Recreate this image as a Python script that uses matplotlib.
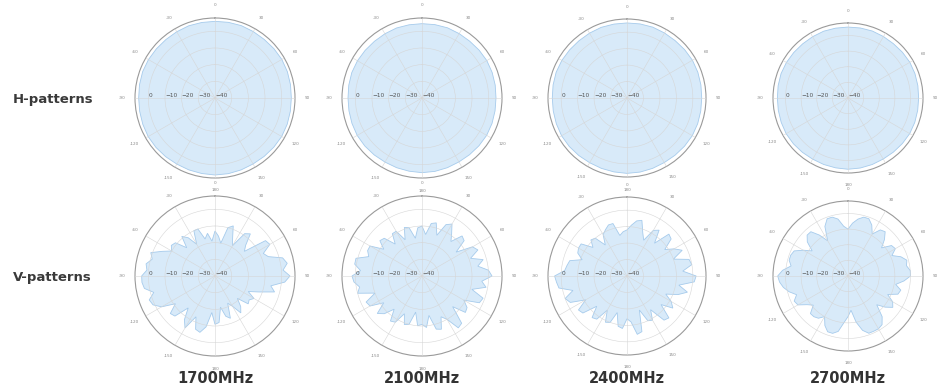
import numpy as np
import matplotlib
matplotlib.use("Agg")
import matplotlib.pyplot as plt

# ------------------------------------ data ------------------------------------
freqs = ["1700MHz", "2100MHz", "2400MHz", "2700MHz"]
row_names = ["H-patterns", "V-patterns"]

# gain in dB, H-plane every 10 deg (clockwise from top)
h_angles = np.arange(0, 360, 10)
h_1700 = [6.0, 6.1, 6.2, 6.0, 5.9, 6.1, 6.3, 6.2, 6.0, 5.8, 5.9, 6.1, 6.2, 6.0, 5.8, 5.7, 5.9, 6.1,
          6.2, 6.0, 5.9, 5.8, 6.0, 6.2, 6.3, 6.1, 5.9, 5.8, 6.0, 6.2, 6.1, 5.9, 5.8, 5.9, 6.1, 6.0]
h_2100 = [4.6, 4.7, 4.8, 4.6, 4.5, 4.7, 4.9, 4.8, 4.6, 4.4, 4.5, 4.7, 4.8, 4.6, 4.4, 4.3, 4.5, 4.7,
          4.8, 4.6, 4.5, 4.4, 4.6, 4.8, 4.9, 4.7, 4.5, 4.4, 4.6, 4.8, 4.7, 4.5, 4.4, 4.5, 4.7, 4.6]
h_2400 = [5.6, 5.7, 5.8, 5.6, 5.5, 5.7, 5.9, 5.8, 5.6, 5.4, 5.5, 5.7, 5.8, 5.6, 5.4, 5.3, 5.5, 5.7,
          5.8, 5.6, 5.5, 5.4, 5.6, 5.8, 5.9, 5.7, 5.5, 5.4, 5.6, 5.8, 5.7, 5.5, 5.4, 5.5, 5.7, 5.6]
h_2700 = [5.4, 5.5, 5.6, 5.4, 5.3, 5.5, 5.7, 5.6, 5.4, 5.2, 5.3, 5.5, 5.6, 5.4, 5.2, 5.1, 5.3, 5.5,
          5.6, 5.4, 5.3, 5.2, 5.4, 5.6, 5.7, 5.5, 5.3, 5.2, 5.4, 5.6, 5.5, 5.3, 5.2, 5.3, 5.5, 5.4]

# gain in dB, V-plane every 5 deg (clockwise from top)
v_angles = np.arange(0, 360, 5)
v_1700 = [-13, -16, -20, -10, -8, -15, -19, -9, -7, -14, -17, -3, -2, -8, -6, 2, 4, 1,
          5, 2, -6, -3, -12, -18, -13, -15, -14, -21, -16, -13, -19, -22, -13, -15, -21, -12,
          -11, -18, -9, -5, -6, -13, -4, -8, -15, -6, -5, -11, -3, 1, 2, -2, 3, 4,
          4, 1, 2, -1, 1, -5, -10, -8, -9, -16, -9, -12, -18, -10, -10, -17, -14, -19]
v_2100 = [-10, -15, -8, -7, -14, -6, -4, -9, -13, -6, -7, -15, -5, -3, -9, -2, -6, 0,
          2, -4, -1, -9, -1, -2, -11, -7, -6, -14, -3, -2, -10, -13, -6, -7, -16, -9,
          -11, -10, -18, -10, -9, -15, -8, -7, -14, -8, -5, -12, -4, -3, -10, 0, -2, 1,
          2, -3, 1, 1, -6, -4, -4, -12, -7, -8, -15, -9, -9, -16, -9, -10, -17, -11]
v_2400 = [-12, -9, -6, -5, -12, -16, -8, -6, -14, -4, -5, -12, -7, -3, -10, -1, 0, -6,
          2, 1, -8, -2, -7, -14, -9, -6, -13, -4, -5, -15, -9, -10, -18, -5, -4, -12,
          -14, -8, -9, -17, -10, -9, -16, -8, -7, -14, -5, -4, -11, -2, 0, -6, 2, 3,
          4, -2, -3, -4, -11, -7, -6, -6, -13, -9, -10, -17, -11, -9, -7, -7, -15, -13]
v_2700 = [-10, -6, -3, -1, -1, -4, -9, -4, -3, -7, -12, -6, -5, -9, -4, -1, -2, 0,
          0, -4, -9, -5, -6, -12, -7, -5, -9, -14, -6, -2, -1, -1, -1, -4, -10, -18,
          -14, -10, -4, -2, -2, -5, -10, -7, -6, -6, -11, -8, -3, -2, -5, -1, 2, 4,
          5, 2, -3, -1, -1, -2, -7, -12, -6, -3, -3, -8, -14, -5, -1, -1, -3, -8]

r_ticks = [-40, -30, -20, -10, 0]
theta_labels = ["0", "30", "60", "90", "120", "150", "180", "-150", "-120", "-90", "-60", "-30"]

h_data = [h_1700, h_2100, h_2400, h_2700]
v_data = [v_1700, v_2100, v_2400, v_2700]

# ------------------------------------ layout ------------------------------------
W, H = 940, 386
col_x = [215, 422, 627, 848]
row_y = [98, 276]
radius = [80, 80, 79, 75]

fig = plt.figure(figsize=(W / 100, H / 100), dpi=100)


def polar_panel(cx, cy, R, angles, gains):
    ax = fig.add_axes([(cx - R) / W, 1 - (cy + R) / H, 2 * R / W, 2 * R / H], projection="polar")
    ax.set_theta_zero_location("N")
    ax.set_theta_direction(-1)
    th = np.deg2rad(np.append(angles, angles[0]))
    g = np.append(gains, gains[0])
    ax.fill(th, g, facecolor="#d8eaf9", edgecolor="#a6cbec", lw=0.6, zorder=2)
    ax.set_ylim(-40, 8)
    ax.set_yticks(r_ticks)
    ax.set_rlabel_position(270)
    ax.set_xticks(np.deg2rad(np.arange(0, 360, 30)))
    ax.set_xticklabels(theta_labels)
    ax.tick_params(axis="x", labelsize=3.0, colors="#888888", pad=-1.5)
    ax.tick_params(axis="y", labelsize=4.2, colors="#555555")
    ax.grid(color="#d6d6d6", lw=0.4)
    ax.spines["polar"].set_color("#9a9a9a")
    ax.spines["polar"].set_linewidth(0.8)
    ax.set_axisbelow(False)
    return ax


for i in range(4):
    polar_panel(col_x[i], row_y[0], radius[i], h_angles, h_data[i])
    polar_panel(col_x[i], row_y[1], radius[i], v_angles, v_data[i])
    fig.text(col_x[i] / W, 1 - 378.5 / H, freqs[i], ha="center", va="center",
             fontsize=10.5, fontweight="bold", color="#333333")

for j in range(2):
    fig.text(13 / W, 1 - (row_y[j] + 2) / H, row_names[j], ha="left", va="center",
             fontsize=9.5, fontweight="bold", color="#3a3a3a")

fig.savefig("out.png", dpi=100, facecolor="white")
